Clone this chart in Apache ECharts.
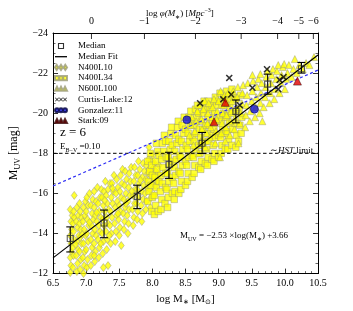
<!DOCTYPE html>
<html><head><meta charset="utf-8">
<script src="https://cdn.jsdelivr.net/npm/echarts@6/dist/echarts.min.js"></script>
<style>html,body{margin:0;padding:0;background:#fff}#c{width:353px;height:311px}</style>
</head><body><div id="c"></div>
<script>
// ---- data ----
const xTickLabels = ['6.5','7.0','7.5','8.0','8.5','9.0','9.5','10.0','10.5'];
const yTickLabels = ['−24','−22','−20','−18','−16','−14','−12'];
const topTickPos = [7.08, 7.88, 8.65, 9.34, 9.89, 10.21, 10.43];
const topTickLabels = ['0','−1','−2','−3','−4','−5','−6'];

const medX = [6.76, 7.27, 7.77, 8.25, 8.75, 9.26, 9.74, 10.25];
const medY = [-13.75, -14.52, -15.85, -17.45, -18.5, -20.09, -21.45, -22.22];
const medLo = [-14.33, -15.17, -16.41, -18.05, -19.04, -20.66, -21.95, -22.53];
const medHi = [-13.08, -13.79, -15.24, -16.75, -17.99, -19.52, -20.95, -22.0];

const fitSlope = -2.53, fitIntercept = 3.66;
const fitRange = [6.5, 10.5];
const dustLine = [[6.5, -16.37], [10.5, -22.15]];
const hstLimit = -18;

const n400l10 = [
[6.76,-12.05],[6.77,-12.4],[6.76,-12.8],[6.78,-13.1],[6.77,-13.5],[6.76,-13.9],[6.78,-14.2],[6.77,-14.6],[6.79,-14.9],[6.76,-15.2],[6.82,-15.9],
[6.80,-12.3],[6.81,-12.9],[6.80,-13.3],[6.82,-13.7],[6.81,-14.1],[6.80,-14.5],[6.82,-14.8],[6.81,-15.1],
[6.86,-12.1],[6.87,-12.5],[6.85,-12.9],[6.88,-13.2],[6.86,-13.6],[6.89,-13.9],[6.87,-14.3],[6.85,-14.6],[6.88,-14.9],[6.86,-15.3],[6.9,-15.5],
[6.91,-12.2],[6.92,-12.7],[6.9,-13.1],[6.93,-13.5],[6.91,-13.8],[6.92,-14.2],[6.9,-14.5],[6.93,-14.8],[6.91,-15.1],
[6.96,-12.0],[6.97,-12.4],[6.95,-12.8],[6.98,-13.1],[6.96,-13.5],[6.99,-13.9],[6.97,-14.2],[6.95,-14.6],[6.98,-14.9],[6.96,-15.3],[6.99,-15.6],
[7.01,-12.3],[7.02,-12.7],[7.0,-13.2],[7.03,-13.6],[7.01,-14.0],[7.04,-14.4],[7.02,-14.7],[7.0,-15.1],[7.03,-15.4],[7.01,-15.8],[7.05,-16.0],
[7.07,-12.4],[7.08,-12.9],[7.09,-13.3],[7.07,-13.7],[7.1,-14.0],[7.08,-14.4],[7.11,-14.7],[7.09,-15.0],[7.07,-15.4],[7.1,-15.7],[7.12,-16.1],
[7.13,-12.6],[7.14,-13.1],[7.12,-13.5],[7.15,-13.9],[7.13,-14.2],[7.16,-14.6],[7.14,-14.9],[7.12,-15.3],[7.15,-15.6],[7.17,-16.3],
[7.19,-12.8],[7.2,-13.3],[7.18,-13.7],[7.21,-14.1],[7.19,-14.4],[7.22,-14.8],[7.2,-15.1],[7.18,-15.5],[7.21,-15.8],[7.23,-16.2],
[7.25,-13.0],[7.26,-13.6],[7.24,-14.0],[7.27,-14.4],[7.25,-14.7],[7.28,-15.1],[7.26,-15.4],[7.24,-15.8],[7.27,-16.1],[7.29,-16.6],
[7.31,-13.2],[7.32,-13.7],[7.3,-14.1],[7.33,-14.5],[7.31,-14.8],[7.34,-15.2],[7.32,-15.5],[7.3,-15.9],[7.33,-16.2],[7.36,-16.5],
[7.37,-13.5],[7.38,-14.0],[7.36,-14.4],[7.39,-14.8],[7.37,-15.1],[7.4,-15.5],[7.38,-15.8],[7.41,-16.1],[7.39,-16.5],[7.42,-16.9],
[7.33,-12.4],[7.26,-12.3],
[7.44,-13.6],[7.45,-14.1],[7.43,-14.5],[7.46,-14.9],[7.44,-15.3],[7.47,-15.6],[7.45,-16.0],[7.48,-16.3],[7.46,-16.7],
[7.5,-13.9],[7.51,-14.3],[7.49,-14.7],[7.52,-15.1],[7.5,-15.4],[7.53,-15.8],[7.51,-16.1],[7.54,-16.5],[7.52,-16.9],[7.55,-17.2],[7.53,-13.4],
[7.57,-14.2],[7.58,-14.6],[7.56,-15.0],[7.59,-15.3],[7.57,-15.7],[7.6,-16.0],[7.58,-16.4],[7.61,-16.7],[7.59,-17.1],
[7.63,-14.0],[7.64,-14.5],[7.62,-14.9],[7.65,-15.2],[7.63,-15.6],[7.66,-15.9],[7.64,-16.3],[7.67,-16.6],[7.65,-17.0],[7.68,-17.3],
[7.71,-14.4],[7.72,-14.8],[7.7,-15.2],[7.73,-15.5],[7.71,-15.9],[7.74,-16.2],[7.72,-16.6],[7.75,-16.9],[7.73,-17.3],
[7.77,-14.7],[7.78,-15.1],[7.76,-15.5],[7.79,-15.8],[7.77,-16.2],[7.8,-16.5],[7.78,-16.9],[7.81,-17.2],[7.79,-17.6],
[7.84,-14.6],[7.85,-15.0],[7.83,-15.4],[7.86,-15.7],[7.84,-16.1],[7.87,-16.4],[7.85,-16.8],[7.88,-17.1],[7.86,-17.5],
[7.9,-15.2],[7.91,-15.6],[7.89,-16.0],[7.92,-16.3],[7.9,-16.7],[7.93,-17.0],[7.91,-17.4],[7.94,-17.7],
[7.97,-15.3],[7.98,-15.8],[7.96,-16.2],[7.99,-16.5],[7.97,-16.9],[8.0,-17.2],[7.98,-17.6],[8.01,-17.9],
[8.03,-15.9],[8.04,-16.4],[8.02,-16.8],[8.05,-17.1],[8.03,-17.5],[8.07,-16.6],[8.08,-17.0],[8.1,-17.4],[7.95,-18.3],
[6.84,-13.45],[6.94,-13.95],[7.05,-14.55],[7.16,-15.05],[7.28,-15.65],[7.4,-16.25],[7.48,-15.0],[7.6,-15.5],[7.69,-16.1],[7.82,-16.65],[7.95,-17.2],[7.12,-12.9],[7.22,-13.5],[7.35,-13.9]
];

const n400l34 = [
[7.93,-15.6],[7.95,-16.1],[7.94,-16.6],[7.96,-17.1],[7.93,-17.6],[7.97,-18.0],[7.99,-15.1],[8.0,-15.8],[7.98,-16.4],[8.0,-16.9],[7.99,-17.4],
[8.03,-14.95],[8.05,-15.4],[8.03,-15.9],[8.06,-16.3],[8.04,-16.8],[8.07,-17.2],[8.05,-17.6],[8.08,-18.1],[8.06,-18.5],[8.09,-15.1],[8.1,-16.6],[8.1,-17.9],
[8.13,-15.2],[8.14,-15.7],[8.12,-16.1],[8.15,-16.5],[8.13,-16.9],[8.16,-17.3],[8.14,-17.7],[8.17,-18.1],[8.15,-18.5],[8.18,-18.9],[8.19,-15.5],[8.2,-16.3],[8.2,-17.0],[8.21,-17.8],[8.2,-18.6],
[8.23,-15.3],[8.24,-15.8],[8.22,-16.2],[8.25,-16.6],[8.23,-17.0],[8.26,-17.4],[8.24,-17.8],[8.27,-18.2],[8.25,-18.6],[8.28,-19.0],[8.29,-19.3],[8.3,-16.0],[8.3,-16.8],[8.31,-17.6],[8.3,-18.4],
[8.33,-15.7],[8.34,-16.1],[8.32,-16.5],[8.35,-16.9],[8.33,-17.3],[8.36,-17.7],[8.34,-18.1],[8.37,-18.5],[8.35,-18.9],[8.38,-19.3],[8.39,-19.6],[8.4,-16.0],[8.4,-17.1],[8.41,-17.9],[8.4,-18.7],
[8.43,-16.2],[8.44,-16.6],[8.42,-17.0],[8.45,-17.4],[8.43,-17.8],[8.46,-18.2],[8.44,-18.6],[8.47,-19.0],[8.45,-19.4],[8.48,-19.8],[8.5,-16.4],[8.5,-17.6],[8.51,-18.4],[8.5,-19.2],
[8.53,-16.6],[8.54,-17.0],[8.52,-17.4],[8.55,-17.8],[8.53,-18.2],[8.56,-18.6],[8.54,-19.0],[8.57,-19.4],[8.55,-19.8],[8.58,-20.1],[8.6,-16.8],[8.6,-17.9],[8.61,-18.8],[8.6,-19.6],
[8.63,-17.0],[8.64,-17.4],[8.62,-17.8],[8.65,-18.2],[8.63,-18.6],[8.66,-19.0],[8.64,-19.4],[8.67,-19.8],[8.65,-20.2],[8.68,-20.4],[8.7,-17.3],[8.7,-18.4],[8.71,-19.2],[8.7,-20.0],
[8.73,-17.2],[8.74,-17.6],[8.72,-18.0],[8.75,-18.4],[8.73,-18.8],[8.76,-19.2],[8.74,-19.6],[8.77,-20.0],[8.75,-20.4],[8.78,-20.6],[8.8,-17.5],[8.8,-18.6],[8.81,-19.4],[8.8,-20.2],
[8.83,-17.4],[8.84,-17.8],[8.82,-18.2],[8.85,-18.6],[8.83,-19.0],[8.86,-19.4],[8.84,-19.8],[8.87,-20.2],[8.85,-20.6],[8.9,-17.7],[8.9,-18.9],[8.91,-19.6],[8.9,-20.4],
[8.93,-17.6],[8.94,-18.0],[8.92,-18.4],[8.95,-18.8],[8.93,-19.2],[8.96,-19.6],[8.94,-20.0],[8.97,-20.4],[8.95,-20.8],[9.0,-17.8],[9.0,-18.9],[9.01,-19.8],[9.0,-20.6],[9.02,-21.0],
[9.04,-18.0],[9.05,-18.4],[9.03,-18.8],[9.06,-19.2],[9.04,-19.6],[9.07,-20.0],[9.05,-20.4],[9.08,-20.8],[9.1,-18.2],[9.1,-19.0],[9.11,-19.8],[9.1,-20.6],[9.12,-21.1],
[9.14,-18.2],[9.15,-18.7],[9.13,-19.1],[9.16,-19.5],[9.14,-19.9],[9.17,-20.3],[9.15,-20.7],[9.2,-18.4],[9.21,-19.2],[9.19,-20.0],[9.22,-20.8],[9.2,-21.2],
[9.26,-18.3],[9.27,-18.9],[9.25,-19.5],[9.28,-20.1],[9.26,-20.7],[9.3,-18.6],[9.32,-19.4],[9.31,-20.2],[9.34,-19.0],[9.35,-19.8],[9.33,-20.9]
];

const n600l100 = [
[8.56,-18.9],[8.58,-19.4],[8.6,-19.8],[8.62,-18.4],[8.64,-19.1],[8.66,-19.6],[8.68,-20.1],[8.7,-18.0],[8.7,-20.4],
[8.73,-18.6],[8.75,-19.2],[8.74,-19.7],[8.77,-20.2],[8.79,-20.6],[8.8,-18.3],[8.82,-19.0],[8.83,-19.5],[8.84,-20.0],[8.85,-20.5],
[8.87,-18.8],[8.88,-19.3],[8.9,-19.8],[8.91,-20.3],[8.93,-20.7],[8.95,-18.5],[8.96,-19.1],[8.97,-19.7],[8.98,-20.1],[9.0,-20.6],[9.02,-17.8],[9.03,-21.1],
[9.04,-19.0],[9.05,-19.5],[9.06,-20.0],[9.08,-20.4],[9.09,-20.9],[9.1,-18.6],[9.11,-19.3],[9.12,-19.9],[9.13,-20.5],[9.14,-21.0],
[9.17,-18.9],[9.18,-19.6],[9.19,-20.1],[9.2,-20.6],[9.22,-21.1],[9.24,-19.2],[9.25,-19.8],[9.27,-20.3],[9.28,-20.8],[9.29,-21.3],[9.3,-18.5],
[9.32,-19.5],[9.33,-20.0],[9.35,-20.5],[9.36,-21.0],[9.37,-21.4],[9.4,-19.3],[9.41,-19.9],[9.42,-20.4],[9.43,-20.9],[9.44,-21.5],
[9.47,-19.6],[9.48,-20.1],[9.5,-20.6],[9.51,-21.1],[9.52,-21.6],[9.51,-21.9],[9.55,-19.8],[9.56,-20.3],[9.57,-20.8],[9.58,-21.3],[9.6,-21.7],
[9.62,-20.0],[9.63,-20.5],[9.64,-21.0],[9.65,-21.5],[9.63,-21.95],[9.68,-20.3],[9.7,-20.8],[9.71,-21.3],[9.72,-21.8],[9.74,-22.1],[9.66,-19.6],
[9.77,-20.5],[9.78,-21.0],[9.79,-21.5],[9.8,-21.9],[9.82,-22.2],[9.84,-20.7],[9.85,-21.2],[9.87,-21.7],[9.88,-22.1],[9.9,-22.4],
[9.92,-21.0],[9.94,-21.5],[9.95,-21.9],[9.97,-22.3],[9.99,-22.45],[10.0,-21.2],[10.02,-21.7],[10.04,-22.0],[10.06,-22.4],
[10.1,-21.8],[10.13,-22.2],[10.15,-22.7],[10.18,-22.0],[10.22,-22.4],[10.27,-22.2],[10.32,-22.5],[10.37,-22.4],[10.44,-22.8]
];

const curtisLake = [[8.72,-20.5],[9.07,-20.69],[9.16,-21.76],[9.19,-20.93],[9.32,-20.4],[9.51,-21.27],[9.73,-22.19],[9.9,-21.2],[9.92,-21.66],[9.98,-21.8]];
const gonzalez = [[8.52,-19.67],[9.54,-20.2]];
const stark = [[8.93,-19.57],[9.1,-20.54],[10.19,-21.6]];

// ---- chart ----
const FONT = 'Liberation Serif';
const yellowStyle = {color:'#ffff00', borderColor:'#9a9a78', borderWidth:0.6};
const xPath = 'path://M0,0.6L0.6,0L2,1.4L3.4,0L4,0.6L2.6,2L4,3.4L3.4,4L2,2.6L0.6,4L0,3.4L1.4,2Z';
function rep(fn){return 'path://' + [0,4,8].map(fn).join(' ');}
const icons = {
  median: 'path://M0,0H5V5H0Z',
  fit: 'path://M0,0H12V1.3H0Z',
  dia: 'path://M0,2.5L1.7,0L3.4,2.5L1.7,5Z M4.3,2.5L6,0L7.7,2.5L6,5Z M8.6,2.5L10.3,0L12,2.5L10.3,5Z',
  sq: 'path://M0,0H4.4V4.4H0Z M3.8,0H8.2V4.4H3.8Z M7.6,0H12V4.4H7.6Z',
  tri: 'path://M0,4L2,0L4,4Z M4,4L6,0L8,4Z M8,4L10,0L12,4Z',
  x: rep(o=>`M${o},0.6L${o+0.6},0L${o+2},1.4L${o+3.4},0L${o+4},0.6L${o+2.6},2L${o+4},3.4L${o+3.4},4L${o+2},2.6L${o+0.6},4L${o},3.4L${o+1.4},2Z`),
  circ: rep(o=>`M${o},2A2,2,0,1,1,${o+4},2A2,2,0,1,1,${o},2Z`),
};

const chart = echarts.init(document.getElementById('c'), null, {renderer:'canvas'});
const minusFmt = v => String(v).replace('-', '−');

const option = {
  animation:false,
  backgroundColor:'#fff',
  textStyle:{fontFamily:FONT},
  grid:{left:43, right:35, top:33, bottom:31},
  legend:{
    orient:'vertical', left:49, top:36, itemWidth:12, itemHeight:5, itemGap:0.7,
    textStyle:{fontFamily:FONT, fontSize:9, color:'#000', lineHeight:10, padding:[0,0,0,6]},
    data:[
      {name:'Median', icon:icons.median, itemStyle:{color:'rgba(0,0,0,0)', borderColor:'#000', borderWidth:1.1}},
      {name:'Median Fit', icon:icons.fit, itemStyle:{color:'#000', borderWidth:0}},
      {name:'N400L10', icon:icons.dia},
      {name:'N400L34', icon:icons.sq},
      {name:'N600L100', icon:icons.tri},
      {name:'Curtis-Lake:12', icon:icons.x},
      {name:'Gonzalez:11', icon:icons.circ},
      {name:'Stark:09', icon:icons.tri}
    ]
  },
  xAxis:[{
    type:'value', min:6.5, max:10.5, interval:0.5,
    name:'{n|log M}{s|∗}{n| [M}{s|⊙}{n|]}', nameLocation:'middle', nameGap:16,
    nameTextStyle:{rich:{n:{fontFamily:FONT,fontSize:11,color:'#000',lineHeight:14},s:{fontFamily:FONT,fontSize:7,color:'#000',verticalAlign:'bottom',lineHeight:6}}},
    axisLine:{lineStyle:{color:'#000',width:1}},
    axisTick:{inside:true, length:5, lineStyle:{color:'#000',width:0.8}},
    minorTick:{show:true, splitNumber:5, length:2.5, lineStyle:{color:'#000',width:0.6}},
    axisLabel:{fontFamily:FONT, fontSize:10, color:'#000', margin:5, formatter:v=>v.toFixed(1)},
    splitLine:{show:false}
  },{
    type:'value', min:6.5, max:10.5, position:'top',
    axisLine:{lineStyle:{color:'#000',width:1}}, axisTick:{show:false}, axisLabel:{show:false}, splitLine:{show:false}
  }],
  yAxis:[{
    type:'value', min:-24, max:-12, interval:2, inverse:true,
    name:'{m|M}{s|UV}{n| [mag]}', nameLocation:'middle', nameGap:26, nameRotate:90,
    nameTextStyle:{rich:{m:{fontFamily:FONT,fontSize:12,color:'#000',lineHeight:15},n:{fontFamily:FONT,fontSize:12,color:'#000',lineHeight:15},s:{fontFamily:FONT,fontSize:8,color:'#000',verticalAlign:'bottom',lineHeight:8}}},
    axisLine:{lineStyle:{color:'#000',width:1}},
    axisTick:{inside:true, length:5, lineStyle:{color:'#000',width:0.8}},
    minorTick:{show:true, splitNumber:4, length:2.5, lineStyle:{color:'#000',width:0.6}},
    axisLabel:{fontFamily:FONT, fontSize:10, color:'#000', margin:5, formatter:minusFmt},
    splitLine:{show:false}
  },{
    type:'value', min:-24, max:-12, interval:2, inverse:true, position:'right',
    axisLine:{lineStyle:{color:'#000',width:1}},
    axisTick:{inside:true, length:5, lineStyle:{color:'#000',width:0.8}},
    minorTick:{show:true, splitNumber:4, length:2.5, lineStyle:{color:'#000',width:0.6}},
    axisLabel:{show:false}, splitLine:{show:false}
  }],
  series:[
    {name:'N400L10', type:'scatter', data:n400l10, symbol:'diamond', symbolSize:[6,8], itemStyle:yellowStyle, z:2},
    {name:'N400L34', type:'scatter', data:n400l34, symbol:'rect', symbolSize:6.5, itemStyle:yellowStyle, z:2},
    {name:'N600L100', type:'scatter', data:n600l100, symbol:'triangle', symbolSize:7, itemStyle:yellowStyle, z:2},
    {name:'HST', type:'line', data:[[fitRange[0],hstLimit],[fitRange[1],hstLimit]], symbol:'none', lineStyle:{color:'#000',width:1,type:[3.5,2.5]}, z:3},
    {name:'Dust', type:'line', data:dustLine, symbol:'none', lineStyle:{color:'#2d2df5',width:1.2,type:[3,2.5]}, z:3},
    {name:'Median Fit', type:'custom', data:[[fitRange[0], fitSlope*fitRange[0]+fitIntercept],[fitRange[1], fitSlope*fitRange[1]+fitIntercept]],
      itemStyle:{color:'#000'}, z:4,
      renderItem:(params, api)=>{
        if (params.dataIndex !== 0) return null;
        const a = api.coord([fitRange[0], fitSlope*fitRange[0]+fitIntercept]);
        const b = api.coord([fitRange[1], fitSlope*fitRange[1]+fitIntercept]);
        return {type:'line', shape:{x1:a[0],y1:a[1],x2:b[0],y2:b[1]}, style:{stroke:'#000', lineWidth:1.2}};
      }},
    {name:'MedianErr', type:'custom', data:medX.map((x,i)=>[x, medLo[i], medHi[i]]), z:5,
      renderItem:(params, api)=>{
        const x = api.value(0);
        const p1 = api.coord([x, api.value(1)]);
        const p2 = api.coord([x, api.value(2)]);
        const w = 4;
        const st = {stroke:'#000', lineWidth:1.1};
        return {type:'group', children:[
          {type:'line', shape:{x1:p1[0],y1:p1[1],x2:p2[0],y2:p2[1]}, style:st},
          {type:'line', shape:{x1:p1[0]-w,y1:p1[1],x2:p1[0]+w,y2:p1[1]}, style:st},
          {type:'line', shape:{x1:p2[0]-w,y1:p2[1],x2:p2[0]+w,y2:p2[1]}, style:st}
        ]};
      }},
    {name:'Median', type:'scatter', data:medX.map((x,i)=>[x, medY[i]]), symbol:'rect', symbolSize:6,
      itemStyle:{color:'rgba(0,0,0,0)', borderColor:'#333', borderWidth:1.1}, z:6},
    {name:'Curtis-Lake:12', type:'scatter', data:curtisLake, symbol:xPath, symbolSize:7, itemStyle:{color:'#000'}, z:7},
    {name:'Gonzalez:11', type:'scatter', data:gonzalez, symbol:'circle', symbolSize:8, itemStyle:{color:'#1010d8', borderColor:'#000040', borderWidth:0.6}, z:7},
    {name:'Stark:09', type:'scatter', data:stark, symbol:'triangle', symbolSize:8, itemStyle:{color:'#e00000', borderColor:'#300', borderWidth:0.6}, z:7},
    {name:'TopTicks', type:'custom', xAxisIndex:1, yAxisIndex:0, data:topTickPos.map((x,i)=>[x,-24,i]), z:8,
      renderItem:(params, api)=>{
        const p = api.coord([api.value(0), -24]);
        const i = api.value(2);
        return {type:'group', children:[
          {type:'line', shape:{x1:p[0],y1:p[1],x2:p[0],y2:p[1]+6}, style:{stroke:'#000', lineWidth:0.8}},
          {type:'text', x:p[0], y:p[1]-12, style:{text:topTickLabels[i], align:'center', verticalAlign:'middle', font:'10px "Liberation Serif"', fill:'#000'}}
        ]};
      }}
  ],
  graphic:[
    {type:'text', left:146, top:7, style:{
      text:'{n|log }{i|φ(M}{s|∗}{n|) [}{i|Mpc}{p|−3}{n|]}',
      rich:{n:{fontFamily:FONT,fontSize:9,fill:'#000',lineHeight:13},i:{fontFamily:FONT,fontStyle:'italic',fontSize:9,fill:'#000',lineHeight:13},
            s:{fontFamily:FONT,fontSize:6,fill:'#000',verticalAlign:'bottom',lineHeight:6},p:{fontFamily:FONT,fontSize:6,fill:'#000',verticalAlign:'top',lineHeight:6}}}},
    {type:'text', x:60, y:133, style:{text:'z = 6', font:'13px "Liberation Serif"', fill:'#000', verticalAlign:'middle'}},
    {type:'text', x:60, y:147, style:{text:'{n|E}{s|B−V}{n| =0.10}', verticalAlign:'middle',
      rich:{n:{fontFamily:FONT,fontSize:9,fill:'#000',lineHeight:12},s:{fontFamily:FONT,fontSize:6,fill:'#000',verticalAlign:'bottom',lineHeight:6}}}},
    {type:'text', x:270, y:151, style:{text:'{n|∼}{i|HST}{n| limit}', verticalAlign:'middle',
      rich:{n:{fontFamily:FONT,fontSize:9,fill:'#000'},i:{fontFamily:FONT,fontStyle:'italic',fontSize:9,fill:'#000'}}}},
    {type:'text', x:180, y:236, style:{text:'{n|M}{s|UV}{n| = −2.53 ×log(M}{s|∗}{n|) +3.66}', verticalAlign:'middle',
      rich:{n:{fontFamily:FONT,fontSize:9,fill:'#000',lineHeight:12},s:{fontFamily:FONT,fontSize:6,fill:'#000',verticalAlign:'bottom',lineHeight:6}}}}
  ]
};
chart.setOption(option);
</script>
</body></html>
